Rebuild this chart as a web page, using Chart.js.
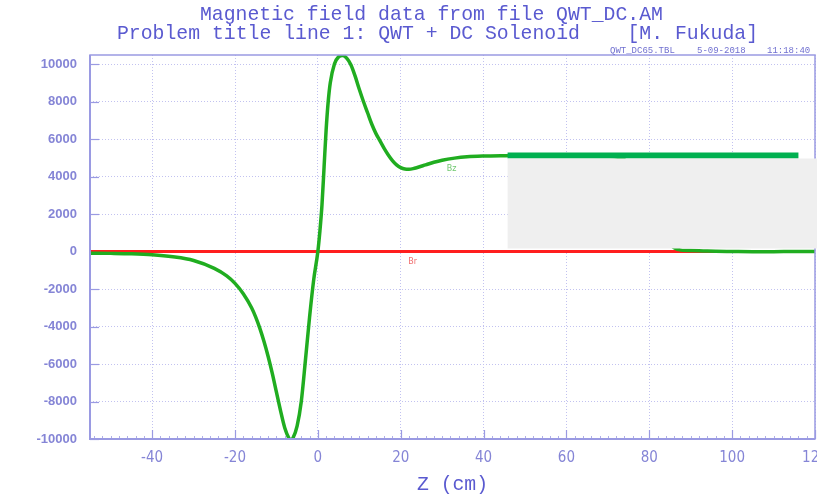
<!DOCTYPE html>
<html>
<head>
<meta charset="utf-8">
<script src="https://cdn.jsdelivr.net/npm/chart.js@4.4.1/dist/chart.umd.min.js"></script>
<style>
  html, body { margin: 0; padding: 0; background: #ffffff; }
  #wrap { width: 817px; height: 496px; position: relative; }
</style>
</head>
<body>
<div id="wrap"><canvas id="field-chart"></canvas></div>
<script>
// --- Field map along the axis (Z in cm, field in gauss) ---
const zPos = [-55, -50, -45, -40, -35, -30, -25, -22, -20, -18, -16, -15, -14, -13, -12, -11, -10,
  -9, -8, -7, -6.5, -6, -5, -4, -3, -2, -1, 0, 0.5, 1, 1.5, 2, 2.5, 3, 4, 5, 6, 7, 8, 9, 10, 11, 12,
  13, 14, 15, 16, 17, 18, 19, 20, 21, 22, 23, 24, 26, 28, 30, 33, 36, 40, 45, 50, 55, 60, 65, 70,
  74, 77, 80, 83, 86, 88, 90, 93, 96, 100, 105, 110, 115, 120];
const bzValues = [-90, -100, -120, -170, -280, -480, -900, -1300, -1700, -2250, -3000, -3500, -4100,
  -4800, -5600, -6500, -7500, -8500, -9400, -9950, -10050, -9950, -9300, -8000, -5800, -3500, -1500, 0,
  1100, 2500, 4500, 6500, 8000, 9000, 10000, 10380, 10450, 10300, 9950, 9350, 8650, 8000, 7400,
  6800, 6300, 5900, 5500, 5150, 4850, 4620, 4470, 4400, 4390, 4420, 4480, 4620, 4760, 4870, 4980,
  5050, 5090, 5110, 5120, 5120, 5110, 5100, 5080, 4900, 4000, 2500, 900, 200, 60, 50, 30, 10, 0,
  -10, -10, 0, 0];
const zBr = [-55, 0, 60, 120];
const brValues = [0, 0, 0, 0];

// bar + blank panel over the plateau
const barZ = [45.8, 116];
const barValues = [5120, 5120];
const maskZ = [45.8, 120.5];
const maskField = [160, 4960];

const xTicks = [-40, -20, 0, 20, 40, 60, 80, 100, 120];
const yTicks = [-10000, -8000, -6000, -4000, -2000, 0, 2000, 4000, 6000, 8000, 10000];

const curveLabels = [
  { text: 'Bz', z: 32.3, field: 4420, color: '#70c870' },
  { text: 'Br', z: 22.9, field: -530, color: '#f07070' }
];

// file stamp above the frame: [text, left x]
const stampParts = [['QWT_DC65.TBL', 610], ['5-09-2018', 697], ['11:18:40', 767]];

const AXIS_COLOR = '#9a9ae2';
const GRID_COLOR = '#c2c2f0';
const TICK_TEXT = '#8585d6';
const TITLE_COLOR = '#5a5ad0';

function toPoints(xs, ys) {
  return xs.map((x, i) => ({ x: x, y: ys[i] }));
}

// Titles, frame, inward ticks, curve tags and the blank panel
const decorPlugin = {
  id: 'decor',
  beforeDatasetsDraw(chart) {
    const { ctx, chartArea: a, scales: { x, y } } = chart;
    ctx.save();
    ctx.strokeStyle = AXIS_COLOR;
    ctx.lineWidth = 1.2;
    // solid inward ticks on left axis
    yTicks.forEach(v => {
      const py = Math.round(y.getPixelForValue(v)) + 0.5;
      ctx.beginPath();
      ctx.moveTo(a.left, py);
      ctx.lineTo(a.left + 9, py);
      ctx.stroke();
    });
    // inward ticks on bottom axis
    xTicks.forEach(v => {
      const px = Math.round(x.getPixelForValue(v)) + 0.5;
      ctx.beginPath();
      ctx.moveTo(px, a.bottom);
      ctx.lineTo(px, a.bottom - 9);
      ctx.stroke();
    });
    // minor ticks on bottom axis
    ctx.lineWidth = 0.8;
    for (let v = -54; v <= 120; v += 2) {
      const px = Math.round(x.getPixelForValue(v)) + 0.5;
      ctx.beginPath();
      ctx.moveTo(px, a.bottom);
      ctx.lineTo(px, a.bottom - 3);
      ctx.stroke();
    }
    ctx.restore();
  },
  afterDatasetsDraw(chart) {
    const { ctx, chartArea: a, scales: { x, y } } = chart;
    ctx.save();

    // frame
    ctx.strokeStyle = AXIS_COLOR;
    ctx.lineWidth = 1.5;
    ctx.strokeRect(a.left, a.top, a.right - a.left, a.bottom - a.top);
    ctx.lineWidth = 2;
    ctx.beginPath();
    ctx.moveTo(a.left, a.top);
    ctx.lineTo(a.left, a.bottom);
    ctx.lineTo(a.right, a.bottom);
    ctx.stroke();

    // curve tags
    ctx.font = '8px "DejaVu Sans"';
    ctx.textAlign = 'center';
    ctx.textBaseline = 'middle';
    curveLabels.forEach(l => {
      ctx.fillStyle = l.color;
      ctx.fillText(l.text, x.getPixelForValue(l.z), y.getPixelForValue(l.field));
    });

    // blank panel
    const mx0 = x.getPixelForValue(maskZ[0]);
    const mx1 = x.getPixelForValue(maskZ[1]);
    const my0 = y.getPixelForValue(maskField[1]);
    const my1 = y.getPixelForValue(maskField[0]);
    ctx.fillStyle = '#efefef';
    ctx.fillRect(mx0, my0, mx1 - mx0, my1 - my0);

    // titles
    ctx.fillStyle = TITLE_COLOR;
    ctx.textAlign = 'left';
    ctx.textBaseline = 'alphabetic';
    ctx.font = '19.8px "Liberation Mono"';
    ctx.fillText('Magnetic field data from file QWT_DC.AM', 200, 20);
    ctx.fillText('Problem title line 1: QWT + DC Solenoid    [M. Fukuda]', 117, 39);

    ctx.font = '9px "Liberation Mono"';
    ctx.fillStyle = '#7070d0';
    stampParts.forEach(([t, px]) => ctx.fillText(t, px, 53));

    ctx.font = '19.8px "Liberation Mono"';
    ctx.fillStyle = TITLE_COLOR;
    ctx.textAlign = 'center';
    ctx.fillText('Z (cm)', (a.left + a.right) / 2, 490);
    ctx.restore();
  }
};

const ctx = document.getElementById('field-chart').getContext('2d');
new Chart(ctx, {
  type: 'line',
  data: {
    datasets: [
      { label: 'Bz', data: toPoints(zPos, bzValues), borderColor: '#20ad20', borderWidth: 3.5,
        pointRadius: 0, cubicInterpolationMode: 'monotone', order: 1 },
      { label: 'Br', data: toPoints(zBr, brValues), borderColor: '#ff1e1e', borderWidth: 3,
        pointRadius: 0, order: 2 },
      { label: 'bar', data: toPoints(barZ, barValues), borderColor: '#00b050', borderWidth: 6,
        borderCapStyle: 'butt', pointRadius: 0, order: 0 }
    ]
  },
  options: {
    responsive: true,
    maintainAspectRatio: false,
    animation: false,
    layout: { autoPadding: false, padding: { top: 55, right: 2, left: 0, bottom: 0 } },
    plugins: { legend: { display: false }, tooltip: { enabled: false }, title: { display: false } },
    scales: {
      x: {
        type: 'linear',
        min: -55,
        max: 120,
        afterBuildTicks: scale => { scale.ticks = xTicks.map(v => ({ value: v })); },
        afterFit: scale => { scale.height = 57; scale.paddingLeft = 0; scale.paddingRight = 0; },
        grid: { color: GRID_COLOR, lineWidth: 1, drawTicks: false },
        border: { display: false, dash: [1, 2] },
        ticks: { padding: 10, color: TICK_TEXT, maxRotation: 0, callback: v => String(v),
          font: { family: '"Liberation Sans Narrow", "DejaVu Sans Condensed", "Liberation Sans"', size: 15 } }
      },
      y: {
        min: -10000,
        max: 10480,
        afterBuildTicks: scale => { scale.ticks = yTicks.map(v => ({ value: v })); },
        afterFit: scale => { scale.width = 90; scale.paddingTop = 0; scale.paddingBottom = 0; },
        grid: { color: GRID_COLOR, lineWidth: 1, drawTicks: false },
        border: { display: false, dash: [1, 2] },
        ticks: { padding: 13, color: TICK_TEXT, callback: v => String(v),
          font: { family: '"Liberation Sans"', size: 13, weight: 'bold' } }
      }
    }
  },
  plugins: [decorPlugin]
});
</script>
</body>
</html>
